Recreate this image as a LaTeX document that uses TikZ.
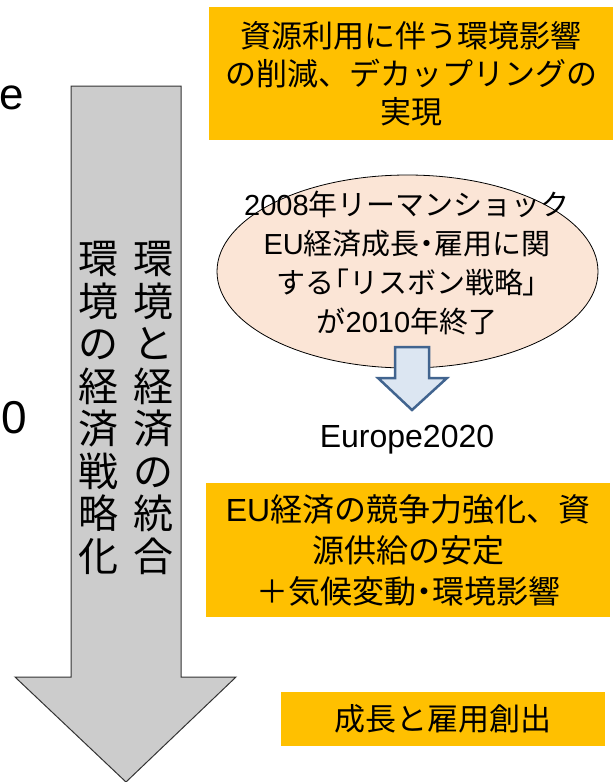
\documentclass[tikz,border=0pt]{standalone}
\usepackage{fontspec}
\usetikzlibrary{shapes.geometric}
\setmainfont{Noto Sans CJK JP}
\newfontfamily\latfont{Liberation Sans}
\newcommand\lat[1]{{\latfont #1}}
\newcommand\pn[1]{{\addfontfeatures{RawFeature=+palt}#1}}
\definecolor{orng}{HTML}{FFC000}
\definecolor{peach}{HTML}{FBE5D6}
\definecolor{arrgray}{HTML}{CCCCCC}
\definecolor{bluefill}{HTML}{DCE6F2}
\definecolor{blueline}{HTML}{41648F}
\tikzset{
  orbox/.style={fill=orng, draw=none, inner sep=0pt, align=center},
  vtext/.style={align=center, inner sep=0pt, font=\fontsize{40}{42.5}\selectfont},
  bigarrow/.style={fill=arrgray, draw=black!80, line width=1pt, line join=miter},
  smallarrow/.style={fill=bluefill, draw=blueline, line width=2.5pt, line join=miter},
}
\begin{document}
\begin{tikzpicture}[x=1pt,y=-1pt]
\useasboundingbox (0,0) rectangle (613,782);

% cropped text fragments at the left edge
\node[inner sep=0pt, font=\latfont\fontsize{44}{44}\selectfont] (fe) at (12,98) {e};
\node[inner sep=0pt, font=\latfont\fontsize{46}{46}\selectfont] (fz) at (14,418) {0};

% big gray arrow
\draw[bigarrow] (71,86) -- (181,86) -- (181,677) -- (236,677) -- (126,782)
  -- (15,677) -- (71,677) -- cycle;
\node[vtext] (vright) at (153,408) {環\\境\\と\\経\\済\\の\\統\\合};
\node[vtext] (vleft) at (98,408) {環\\境\\の\\経\\済\\戦\\略\\化};

% top box
\node[orbox, minimum width=404pt, minimum height=133pt,
  font=\fontsize{31}{38}\selectfont] (top) at (411,73.5)
  {資源利用に伴う環境影響\\の削減、デカップリングの\\実現};

% ellipse
\node[ellipse, draw=black, line width=0.8pt, fill=peach, minimum width=381pt,
  minimum height=193pt, inner sep=0pt] (ell) at (407.5,271.5) {};
\node[align=center, inner sep=0pt, font=\fontsize{29}{39}\selectfont] (elltext) at (407,263)
  {\lat{2008}年リーマンショック\\\lat{EU}経済成長\pn{・}雇用に関\\する\pn{「}リスボン戦略\pn{」}\\が\lat{2010}年終了};

% small blue arrow
\draw[smallarrow] (395,347) -- (429,347) -- (429,378) -- (447,378) -- (412,410)
  -- (378,378) -- (395,378) -- cycle;

\node[inner sep=0pt, font=\latfont\fontsize{32}{32}\selectfont] (eu) at (407,440) {Europe2020};

% middle box
\node[orbox, minimum width=404pt, minimum height=134pt,
  font=\fontsize{32}{41}\selectfont] (mid) at (408,550)
  {\lat{EU}経済の競争力強化、資\\源供給の安定\\＋気候変動\pn{・}環境影響};

% bottom box
\node[orbox, minimum width=324pt, minimum height=54pt,
  font=\fontsize{31}{31}\selectfont] (bot) at (443,719) {成長と雇用創出};
\end{tikzpicture}
\end{document}
